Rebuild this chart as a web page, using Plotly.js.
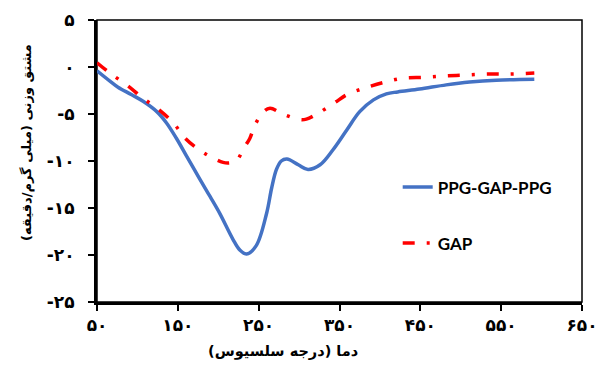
<!DOCTYPE html>
<html>
<head>
<meta charset="utf-8">
<script src="https://cdn.plot.ly/plotly-3.0.1.min.js"></script>
<style>html,body{margin:0;padding:0;background:#fff}#chart{width:600px;height:370px}</style>
</head>
<body>
<div id="chart"></div>
<script>
// PPG-GAP-PPG series
const tempPPG = [50, 66, 76, 93, 107, 124, 136, 148, 161, 177, 190, 202, 218, 227, 235, 247, 260, 266, 272, 278, 285, 299, 311, 326, 342, 359, 375, 392, 408, 422, 449, 482, 511, 544, 591];
const dtgPPG  = [-0.4, -1.5, -2.15, -2.95, -3.65, -4.75, -5.95, -7.55, -9.5, -11.9, -13.8, -15.6, -18.3, -19.5, -19.9, -19.0, -15.5, -12.9, -10.9, -10.0, -9.8, -10.4, -10.9, -10.4, -8.8, -6.7, -4.75, -3.5, -2.86, -2.65, -2.35, -1.9, -1.6, -1.4, -1.3];
// GAP series
const tempGAP = [50, 66, 89, 105, 126, 144, 160, 178, 196, 206, 214, 222, 233, 239, 245, 256, 264, 280, 301, 309, 324, 344, 360, 381, 404, 428, 455, 482, 507, 534, 558, 591];
const dtgGAP  = [0.45, -0.65, -2.05, -3.2, -4.5, -5.9, -7.65, -8.9, -9.8, -10.15, -10.2, -10.0, -8.45, -7.6, -6.25, -4.75, -4.4, -5.0, -5.6, -5.55, -4.9, -3.8, -2.9, -2.25, -1.65, -1.2, -1.1, -0.95, -0.85, -0.75, -0.75, -0.65];

const seriesNames = ["PPG-GAP-PPG", "GAP"];
const xTickVals = [50, 150, 250, 350, 450, 550, 650];
const xTickText = ["۵۰", "۱۵۰", "۲۵۰", "۳۵۰", "۴۵۰", "۵۵۰", "۶۵۰"];
const yTickVals = [5, 0, -5, -10, -15, -20, -25];
const yTickText = ["۵", "۰", "-۵", "-۱۰", "-۱۵", "-۲۰", "-۲۵"];
const xTitle = "دما (درجه سلسیوس)";
const yTitle = "مشتق وزنی (میلی گرم/دقیقه)";

const faFont = "DejaVu Sans";

const traces = [
  {x: tempPPG, y: dtgPPG, name: seriesNames[0], mode: "lines", legendgroup: "a",
   line: {color: "#4472C4", width: 3.5, shape: "spline", smoothing: 1.0}},
  {x: tempGAP, y: dtgGAP, name: seriesNames[1], mode: "lines", legendgroup: "b",
   line: {color: "#FF0000", width: 3.5, shape: "spline", smoothing: 1.0, dash: "12px,12px,3px,12px"}}
];

const layout = {
  width: 600, height: 370,
  margin: {l: 97, r: 18, t: 20, b: 68},
  paper_bgcolor: "#fff", plot_bgcolor: "#fff",
  showlegend: true,
  legend: {x: 0.62, y: 0.47, xanchor: "left", yanchor: "top", tracegroupgap: 31,
           font: {family: "Lato", size: 17, weight: "bold", color: "#000"}, bgcolor: "rgba(0,0,0,0)"},
  xaxis: {range: [50, 650], tickvals: xTickVals, ticktext: xTickText, showgrid: false, zeroline: false,
          showline: true, linecolor: "#000", linewidth: 3, ticks: "outside", ticklen: 6, tickwidth: 2, tickcolor: "#000",
          tickfont: {family: faFont, size: 17, weight: "bold", color: "#000"}, fixedrange: true},
  yaxis: {range: [-25, 5], tickvals: yTickVals, ticktext: yTickText, showgrid: false, zeroline: false,
          showline: true, linecolor: "#000", linewidth: 3, ticks: "outside", ticklen: 6, tickwidth: 2, tickcolor: "#000",
          tickfont: {family: faFont, size: 17, weight: "bold", color: "#000"}, ticklabelstandoff: 10, fixedrange: true},
  shapes: [{type: "rect", xref: "paper", yref: "paper", x0: 0, x1: 1, y0: 0, y1: 1, line: {color: "#000", width: 1.5}, layer: "below"}],
  annotations: [
    {text: xTitle, xref: "paper", yref: "paper", x: 0.3835, y: -0.177, xanchor: "center", yanchor: "middle", showarrow: false,
     font: {family: faFont, size: 14.5, weight: "bold", color: "#000"}},
    {text: yTitle, xref: "paper", yref: "paper", x: -0.1443, y: 0.564, xanchor: "center", yanchor: "middle", showarrow: false, textangle: -90,
     font: {family: faFont, size: 13, weight: "bold", color: "#000"}}
  ]
};

Plotly.newPlot("chart", traces, layout, {displayModeBar: false, staticPlot: true});
</script>
</body>
</html>
